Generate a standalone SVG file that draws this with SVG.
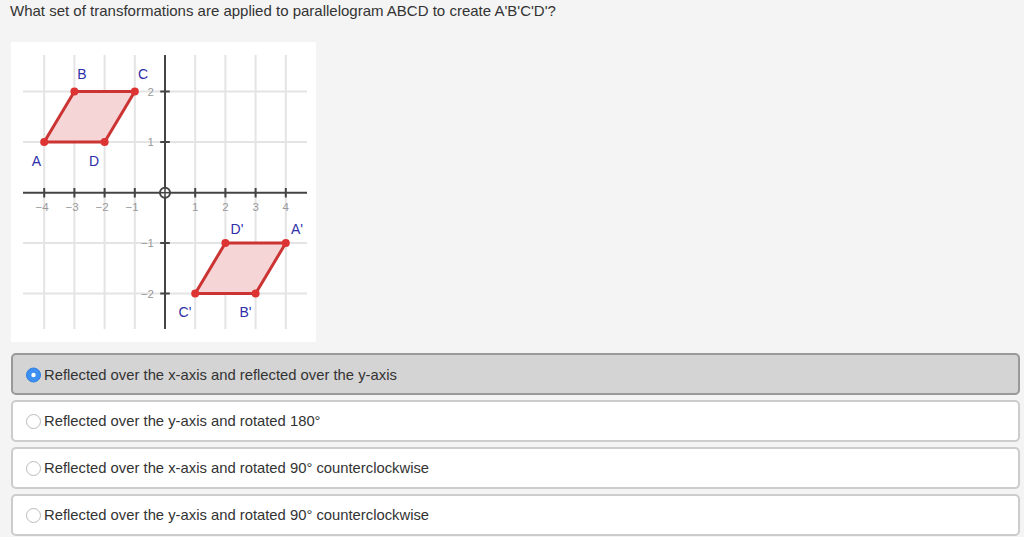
<svg xmlns="http://www.w3.org/2000/svg" width="1024" height="537" viewBox="0 0 1024 537">
<style>
  .t{font-family:"Liberation Sans",Arial,sans-serif;fill:#333;}
  .grid{stroke:#e4e4e4;stroke-width:2;}
  .axis{stroke:#444;stroke-width:2;}
  .tick{stroke:#444;stroke-width:2;}
  .tl{font-family:"Liberation Sans",Arial,sans-serif;font-size:11.5px;fill:#999;}
  .pl{font-family:"Liberation Sans",Arial,sans-serif;font-size:14px;fill:#2e2ea8;}
  .poly{fill:#f5d5d6;stroke:#cc3333;stroke-width:3;stroke-linejoin:round;}
  .pt{fill:#dd3333;}
  .opt{fill:#ffffff;stroke:#cccccc;stroke-width:2;}
  .optsel{fill:#d4d4d4;stroke:#999999;stroke-width:2;}
  .radio{fill:#ffffff;stroke:#bbbbbb;stroke-width:1;}
  .ot{font-family:"Liberation Sans",Arial,sans-serif;font-size:14.8px;fill:#333;}
</style>
<rect width="1024" height="537" fill="#f4f4f4"/>
<text class="t" x="10" y="16" font-size="15">What set of transformations are applied to parallelogram ABCD to create A'B'C'D'?</text>

<g id="graph">
  <rect x="11" y="42" width="305" height="300" fill="#ffffff"/>
  <g class="grid">
    <line x1="44.2" y1="55" x2="44.2" y2="329"/>
    <line x1="74.4" y1="55" x2="74.4" y2="329"/>
    <line x1="104.6" y1="55" x2="104.6" y2="329"/>
    <line x1="134.8" y1="55" x2="134.8" y2="329"/>
    <line x1="195.2" y1="55" x2="195.2" y2="329"/>
    <line x1="225.4" y1="55" x2="225.4" y2="329"/>
    <line x1="255.6" y1="55" x2="255.6" y2="329"/>
    <line x1="285.8" y1="55" x2="285.8" y2="329"/>
    <line x1="23" y1="91.5" x2="307" y2="91.5"/>
    <line x1="23" y1="142" x2="307" y2="142"/>
    <line x1="23" y1="243" x2="307" y2="243"/>
    <line x1="23" y1="293.5" x2="307" y2="293.5"/>
  </g>
  <line class="axis" x1="23" y1="192.7" x2="307" y2="192.7"/>
  <line class="axis" x1="165" y1="55" x2="165" y2="329"/>
  <g class="tick">
    <line x1="44.2" y1="188" x2="44.2" y2="197.5"/>
    <line x1="74.4" y1="188" x2="74.4" y2="197.5"/>
    <line x1="104.6" y1="188" x2="104.6" y2="197.5"/>
    <line x1="134.8" y1="188" x2="134.8" y2="197.5"/>
    <line x1="195.2" y1="188" x2="195.2" y2="197.5"/>
    <line x1="225.4" y1="188" x2="225.4" y2="197.5"/>
    <line x1="255.6" y1="188" x2="255.6" y2="197.5"/>
    <line x1="285.8" y1="188" x2="285.8" y2="197.5"/>
    <line x1="160.2" y1="91.5" x2="169.8" y2="91.5"/>
    <line x1="160.2" y1="142" x2="169.8" y2="142"/>
    <line x1="160.2" y1="243" x2="169.8" y2="243"/>
    <line x1="160.2" y1="293.5" x2="169.8" y2="293.5"/>
  </g>
  <circle cx="165" cy="192.7" r="5" fill="#ffffff" stroke="#444" stroke-width="2"/>
  <line x1="160" y1="192.7" x2="170" y2="192.7" stroke="#444" stroke-width="1.5"/>
  <line x1="165" y1="187.7" x2="165" y2="197.7" stroke="#444" stroke-width="1.5"/>
  <g class="tl" text-anchor="middle">
    <text x="42" y="211">−4</text>
    <text x="72" y="211">−3</text>
    <text x="102" y="211">−2</text>
    <text x="132" y="211">−1</text>
    <text x="195.2" y="211">1</text>
    <text x="225.4" y="211">2</text>
    <text x="255.6" y="211">3</text>
    <text x="285.8" y="211">4</text>
  </g>
  <g class="tl" text-anchor="end">
    <text x="154" y="95.5">2</text>
    <text x="154" y="146">1</text>
    <text x="154" y="247">−1</text>
    <text x="154" y="297.5">−2</text>
  </g>
</g>

<g id="ABCD">
  <polygon class="poly" points="44.2,142 74.4,91.5 134.8,91.5 104.6,142"/>
  <circle class="pt" cx="44.2" cy="142" r="4"/>
  <circle class="pt" cx="74.4" cy="91.5" r="4"/>
  <circle class="pt" cx="134.8" cy="91.5" r="4"/>
  <circle class="pt" cx="104.6" cy="142" r="4"/>
  <text class="pl" x="82" y="78.5" text-anchor="middle">B</text>
  <text class="pl" x="143" y="78.5" text-anchor="middle">C</text>
  <text class="pl" x="36.5" y="165.5" text-anchor="middle">A</text>
  <text class="pl" x="94" y="165.5" text-anchor="middle">D</text>
</g>

<g id="ApBpCpDp">
  <polygon class="poly" points="285.8,243 255.6,293.5 195.2,293.5 225.4,243"/>
  <circle class="pt" cx="285.8" cy="243" r="4"/>
  <circle class="pt" cx="255.6" cy="293.5" r="4"/>
  <circle class="pt" cx="195.2" cy="293.5" r="4"/>
  <circle class="pt" cx="225.4" cy="243" r="4"/>
  <text class="pl" x="237" y="233.5" text-anchor="middle">D'</text>
  <text class="pl" x="297" y="233.5" text-anchor="middle">A'</text>
  <text class="pl" x="185" y="316.5" text-anchor="middle">C'</text>
  <text class="pl" x="245.5" y="316.5" text-anchor="middle">B'</text>
</g>

<g id="option1">
  <rect class="optsel" x="12" y="354" width="1007" height="40" rx="4"/>
  <circle cx="33.5" cy="375" r="7" fill="#3d8ff2" stroke="#2f7fe0" stroke-width="1"/>
  <circle cx="33.5" cy="375" r="2.2" fill="#ffffff"/>
  <text class="ot" x="44" y="379.5">Reflected over the x-axis and reflected over the y-axis</text>
</g>
<g id="option2">
  <rect class="opt" x="12" y="401" width="1007" height="40" rx="4"/>
  <circle class="radio" cx="33.5" cy="421.5" r="7"/>
  <text class="ot" x="44" y="426">Reflected over the y-axis and rotated 180°</text>
</g>
<g id="option3">
  <rect class="opt" x="12" y="448" width="1007" height="40" rx="4"/>
  <circle class="radio" cx="33.5" cy="468.5" r="7"/>
  <text class="ot" x="44" y="473">Reflected over the x-axis and rotated 90° counterclockwise</text>
</g>
<g id="option4">
  <rect class="opt" x="12" y="495" width="1007" height="40" rx="4"/>
  <circle class="radio" cx="33.5" cy="515.5" r="7"/>
  <text class="ot" x="44" y="520">Reflected over the y-axis and rotated 90° counterclockwise</text>
</g>
</svg>
